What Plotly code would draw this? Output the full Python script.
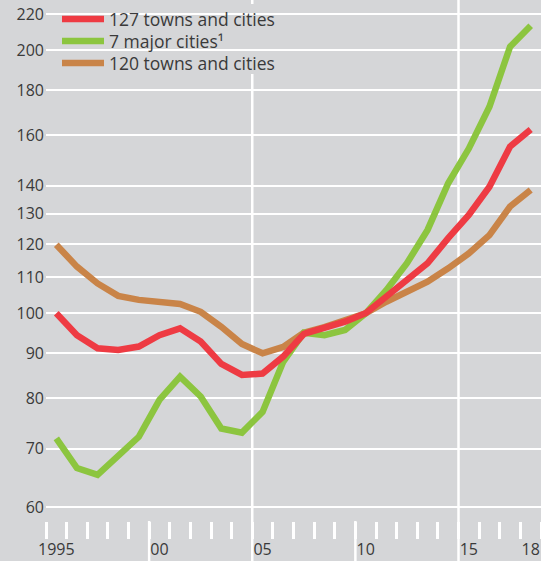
import plotly.graph_objects as go

years = list(range(1995, 2019))
towns_127 = [100.0, 94.4, 91.2, 90.8, 91.6, 94.4, 96.1, 92.8, 87.5, 85.0, 85.3, 89.2,
             94.7, 96.1, 97.8, 100.0, 104.5, 109.2, 114.1, 121.9, 129.6, 139.6, 155.2, 162.4]
major_7 = [71.9, 66.5, 65.3, 68.5, 72.2, 79.6, 84.6, 80.3, 73.8, 73.0, 77.1, 88.0,
           95.0, 94.4, 95.7, 100.0, 106.3, 114.1, 124.6, 140.9, 154.4, 172.4, 202.0, 213.5]
towns_120 = [119.8, 113.1, 108.2, 104.7, 103.6, 103.1, 102.5, 100.4, 96.5, 92.2, 90.0, 91.5,
             95.0, 96.4, 98.2, 100.0, 103.1, 105.9, 108.7, 112.6, 117.1, 122.9, 132.5, 138.4]

x_label_years = [1995, 2000, 2005, 2010, 2015, 2018]
x_label_text = ["1995", "00", "05", "10", "15", "18"]
y_ticks = [60, 70, 80, 90, 100, 110, 120, 130, 140, 160, 180, 200, 220]

BG = "#d5d6d8"
TXT = "#3a3a3a"
RED = "#ee3b43"
GREEN = "#8cc53f"
BROWN = "#c98448"
FONT = "Open Sans"

W, H = 541, 561
ML, MB = 46, 40
plot_w = W - ML
plot_h = H - MB

fig = go.Figure()
fig.add_trace(go.Scatter(x=years, y=towns_120, mode="lines", name="120 towns and cities",
                         line=dict(color=BROWN, width=6.5), legend="legend3"))
fig.add_trace(go.Scatter(x=years, y=major_7, mode="lines", name="7 major cities¹",
                         line=dict(color=GREEN, width=6.5), legend="legend2"))
fig.add_trace(go.Scatter(x=years, y=towns_127, mode="lines", name="127 towns and cities",
                         line=dict(color=RED, width=6.5), legend="legend"))

boundaries = [y - 0.5 for y in years] + [years[-1] + 0.5]
bottom = -MB / plot_h
shapes = []
for b in [1999.5, 2009.5]:
    shapes.append(dict(type="line", xref="x", yref="paper", x0=b, x1=b, y0=0, y1=bottom,
                       line=dict(color="white", width=2.5), layer="below"))
for b in [2004.5, 2014.5]:
    shapes.append(dict(type="line", xref="x", yref="paper", x0=b, x1=b, y0=bottom, y1=1,
                       line=dict(color="white", width=2.5), layer="below"))
# background knock-out behind the legend (hides grid lines like the original)
shapes.append(dict(type="rect", xref="x domain", yref="y domain",
                   x0=(53 - ML) / plot_w, x1=(290 - ML) / plot_w,
                   y0=1 - 74 / plot_h, y1=1 - 4 / plot_h,
                   fillcolor=BG, line=dict(width=0), layer="below"))


def legend_at(row_center_px):
    return dict(x=11 / plot_w, y=1 - (row_center_px - 18) / plot_h, xref="paper", yref="paper",
                xanchor="left", yanchor="top", bgcolor="rgba(0,0,0,0)", borderwidth=0,
                font=dict(family=FONT, size=17.5, color=TXT), itemwidth=42)


fig.update_layout(
    width=W, height=H, autosize=False,
    margin=dict(l=ML, r=0, t=0, b=MB, pad=0, autoexpand=False),
    paper_bgcolor=BG, plot_bgcolor=BG,
    font=dict(family=FONT, size=16, color=TXT),
    showlegend=True,
    legend=legend_at(19),
    legend2=legend_at(41),
    legend3=legend_at(63),
    shapes=shapes,
    xaxis=dict(range=[1994.5, 2018.5], tickmode="array", tickvals=x_label_years,
               ticktext=x_label_text, ticks="", showgrid=False, zeroline=False,
               showline=False, tickfont=dict(family=FONT, size=16, color=TXT),
               ticklabelstandoff=17,
               minor=dict(tickmode="array", tickvals=boundaries, ticks="outside",
                          ticklen=17, tickwidth=2.5, tickcolor="white", showgrid=False)),
    yaxis=dict(type="log", range=[1.76212, 2.3588], tickmode="array", tickvals=y_ticks,
               ticktext=[str(v) for v in y_ticks], ticks="", showgrid=True,
               gridcolor="white", gridwidth=2, zeroline=False, showline=False,
               tickfont=dict(family=FONT, size=16, color=TXT), ticklabelstandoff=1),
)

fig.write_html("out.html", config={"displayModeBar": False},
               post_script="document.body.style.margin='0';document.body.style.overflow='hidden';")
